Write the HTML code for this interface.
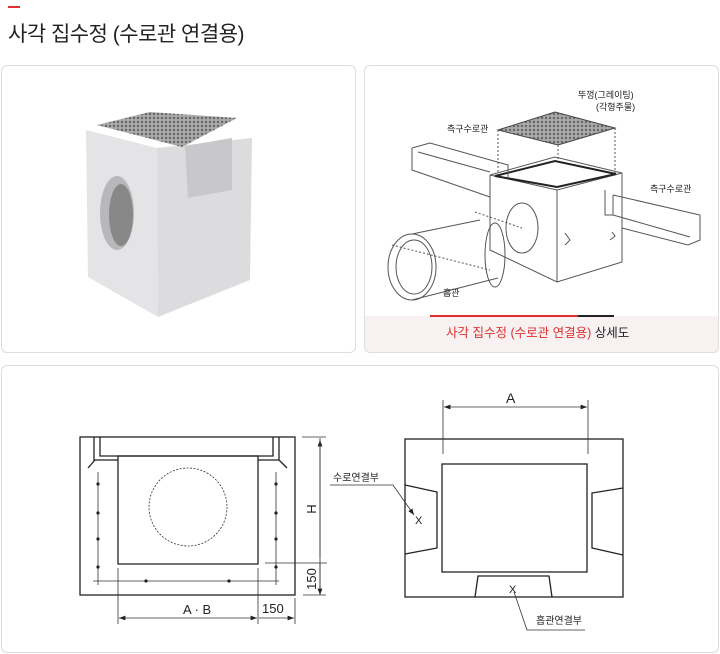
<!DOCTYPE html>
<html><head><meta charset="utf-8"><style>
body{margin:0;width:720px;height:654px;background:#fff;font-family:"Liberation Sans","Noto Sans CJK KR",sans-serif;overflow:hidden;position:relative}
.p{position:absolute;border:1px solid #ddd;border-radius:6px;background:#fff;box-sizing:border-box}
svg{position:absolute;left:0;top:0}
</style></head><body>
<div style="position:absolute;left:8px;top:6px;width:12px;height:2px;background:#e0302f"></div>
<div style="position:absolute;left:8px;top:18px;font-size:21px;color:#222;letter-spacing:-0.5px">사각 집수정 (수로관 연결용)</div>
<div class="p" style="left:1px;top:65px;width:355px;height:288px"></div>
<div class="p" style="left:364px;top:65px;width:355px;height:288px;overflow:hidden"><div style="position:absolute;left:0;top:250px;width:355px;height:40px;background:#f8f1f2"></div></div>
<div class="p" style="left:1px;top:365px;width:718px;height:288px"></div>
<svg width="720" height="654" viewBox="0 0 720 654" font-family="Liberation Sans,Noto Sans CJK KR,sans-serif">
<defs>
<pattern id="g" width="4" height="4" patternUnits="userSpaceOnUse"><rect width="4" height="4" fill="#aaa"/><circle cx="2" cy="2" r="1.2" fill="#666"/></pattern>
<marker id="ar" markerWidth="8" markerHeight="6" refX="8" refY="3" orient="auto-start-reverse"><path d="M0,0L8,3L0,6z" fill="#222"/></marker>
</defs>
<!-- photo -->
<polygon points="86,130 157,148 158,317 88,277" fill="#e4e4e6"/>
<polygon points="157,148 252,138 250,280 158,317" fill="#dcdcde"/>
<polygon points="97,125 150,112 237,118 182,147" fill="url(#g)"/>
<polygon points="185,146 232,138 232,190 188,198" fill="#c8c8ca"/>
<ellipse cx="117" cy="213" rx="17" ry="37" fill="#b8b8ba"/>
<ellipse cx="121" cy="215" rx="12" ry="31" fill="#888"/>
<!-- 3D drawing -->
<g stroke="#555" fill="none" stroke-width="1">
<polygon points="498,130 555,112 615,128 558,145" fill="url(#g)" stroke="#444"/>
<polygon points="490,175 555,157 622,173 557,190" fill="#fff"/>
<polygon points="495,176 555,161 616,174 557,187" fill="#fff" stroke="#222" stroke-width="2"/>
<path d="M490,175V250L557,282L622,262V173M557,190V282"/>
<path d="M498,130V175M615,128V173M558,145V160" stroke-dasharray="2,2"/>
<path d="M412,148L430,143L508,165V178M412,148V170L490,197M418,152L490,172"/>
<path d="M613,195L700,215V240L688,245L622,228M613,195V215L690,237M605,190V215L613,215" />
<path d="M475,212L522,228M392,245L490,270" stroke-dasharray="2,2"/>
<path d="M412,234L480,220M412,300L498,278"/>
<ellipse cx="412" cy="267" rx="24" ry="33"/><ellipse cx="414" cy="267" rx="18" ry="27"/>
<ellipse cx="522" cy="228" rx="16" ry="25"/>
<ellipse cx="495" cy="255" rx="10" ry="32"/>
<path d="M565,233L570,240L565,245M612,232L615,236L610,240"/>
</g>
<g font-size="9" fill="#222">
<text x="578" y="98">뚜껑(그레이팅)</text><text x="596" y="110">(각형주물)</text>
<text x="447" y="132">측구수로관</text><text x="650" y="192">측구수로관</text><text x="443" y="296">흡관</text>
</g>
<rect x="430" y="315" width="148" height="2" fill="#e0302f"/><rect x="578" y="315" width="36" height="2" fill="#222"/>
<text x="446" y="337" font-size="12.5" fill="#e0302f">사각 집수정 (수로관 연결용) <tspan fill="#222">상세도</tspan></text>
<!-- left technical -->
<g stroke="#222" fill="none" stroke-width="1.3">
<rect x="80" y="437" width="215" height="158"/>
<path d="M100,437V456H273V437M94,437V460H118M279,437V460H258M88,468L95,460M287,468L279,460"/>
<rect x="118" y="456" width="140" height="108"/>
</g>
<g stroke="#333" fill="none" stroke-width="0.8">
<circle cx="188" cy="507" r="39" stroke-dasharray="2,1.5"/>
<path d="M98,472V585M276,472V585M93,581H279"/>
<path d="M302,437H326M265,563H327M303,595H326M320,438V595" />
<path d="M320,440V558M320,563V595" marker-start="url(#ar)" marker-end="url(#ar)"/>
<path d="M118,568V624M258,568V624M295,598V624"/>
<path d="M119,618H257" marker-start="url(#ar)" marker-end="url(#ar)"/>
<path d="M259,618H294" marker-end="url(#ar)"/>
</g>
<g fill="#222"><circle cx="98" cy="484" r="1.6"/><circle cx="98" cy="513" r="1.6"/><circle cx="98" cy="539" r="1.6"/><circle cx="98" cy="567" r="1.6"/><circle cx="276" cy="484" r="1.6"/><circle cx="276" cy="513" r="1.6"/><circle cx="276" cy="539" r="1.6"/><circle cx="276" cy="567" r="1.6"/><circle cx="146" cy="581" r="1.6"/><circle cx="229" cy="581" r="1.6"/></g>
<text x="183" y="614" font-size="13" fill="#222">A · B</text>
<text x="262" y="613" font-size="13" fill="#222">150</text>
<text transform="translate(316,509) rotate(-90)" font-size="13" fill="#222" text-anchor="middle">H</text>
<text transform="translate(316,579) rotate(-90)" font-size="13" fill="#222" text-anchor="middle">150</text>
<!-- right technical -->
<g stroke="#222" fill="none" stroke-width="1.3">
<rect x="405" y="439" width="218" height="158"/>
<rect x="442" y="464" width="145" height="108"/>
<path d="M405,485L437,492V548L405,554M623,488L592,493V548L623,555M475,597L478,576H549L552,597"/>
</g>
<g stroke="#333" fill="none" stroke-width="0.8">
<path d="M443,400V454M588,400V454"/>
<path d="M444,407H587" marker-start="url(#ar)" marker-end="url(#ar)"/>
<path d="M330,485H393L414,515" marker-end="url(#ar)"/>
<path d="M585,630H527L514,592"/>
</g>
<text x="506" y="403" font-size="14" fill="#222">A</text>
<text x="415" y="524" font-size="11" fill="#222">X</text><text x="509" y="593" font-size="11" fill="#222">X</text>
<text x="333" y="481" font-size="10" fill="#222">수로연결부</text>
<text x="536" y="624" font-size="10" fill="#222">흡관연결부</text>
</svg>
</body></html>
